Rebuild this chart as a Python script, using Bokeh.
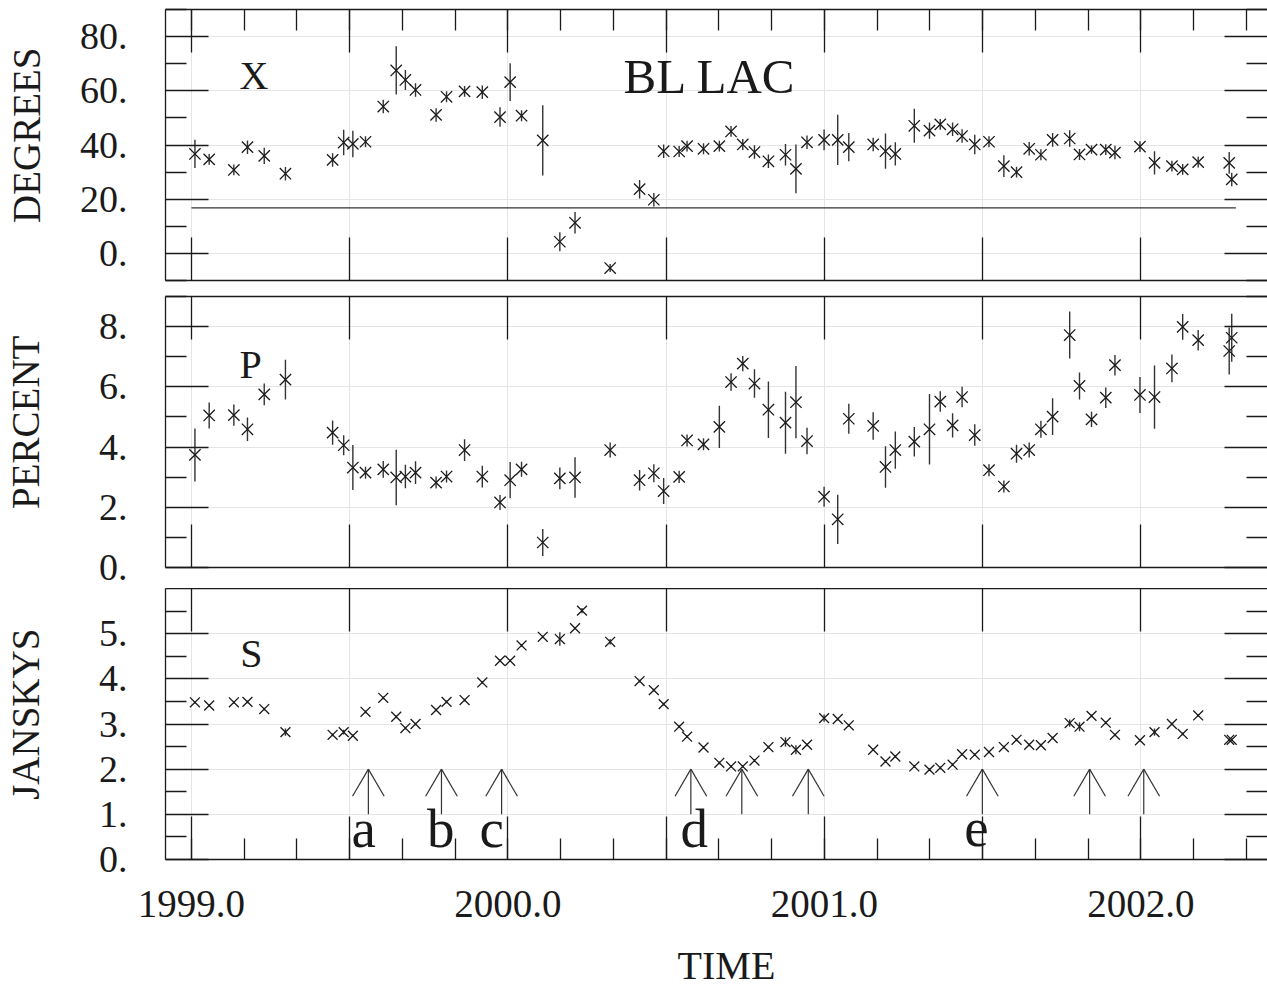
from bokeh.plotting import figure
from bokeh.layouts import column
from bokeh.models import LinearAxis, FixedTicker, Range1d, ColumnDataSource, Label
from bokeh.core.properties import value
from bokeh.embed import file_html
from bokeh.resources import INLINE

FONT = "Liberation Serif"
INK = "#1a1a1a"
ERR = "#333333"
PAD = "\u00a0\u00a0"

# ---------------- data ----------------
t_xp = [1999.011, 1999.056, 1999.134, 1999.177, 1999.230, 1999.297, 1999.446, 1999.481,
        1999.510, 1999.550, 1999.606, 1999.647, 1999.676, 1999.708, 1999.773, 1999.806,
        1999.863, 1999.919, 1999.975, 2000.007, 2000.043, 2000.110, 2000.164, 2000.212,
        2000.323, 2000.416, 2000.461, 2000.492, 2000.541, 2000.566, 2000.618,
        2000.668, 2000.705, 2000.742, 2000.779, 2000.823, 2000.877, 2000.910, 2000.945,
        2000.999, 2001.042, 2001.077, 2001.154, 2001.193, 2001.224, 2001.284, 2001.332,
        2001.366, 2001.405, 2001.435, 2001.475, 2001.520, 2001.567, 2001.607, 2001.647,
        2001.684, 2001.721, 2001.775, 2001.806, 2001.844, 2001.889, 2001.918, 2001.997,
        2002.043, 2002.098, 2002.132, 2002.181, 2002.279, 2002.287]

chi_deg = [36.7, 34.7, 30.8, 39.2, 36.0, 29.4, 34.5, 40.9, 40.4, 41.2,
           54.2, 67.5, 64.0, 60.3, 51.1, 57.8, 59.8, 59.5, 50.3, 63.2,
           50.8, 41.7, 4.3, 11.3, -5.4, 23.7, 19.8, 37.7, 37.6, 39.6, 38.6,
           39.6, 45.0, 40.2, 37.4, 34.0, 36.4, 31.2, 41.0, 41.9,
           41.9, 39.2, 40.2, 37.7, 36.7, 47.1, 45.3, 47.6, 45.8, 43.3,
           40.2, 41.2, 32.2, 30.0, 38.6, 36.4, 41.9, 42.4, 36.5, 38.3,
           38.3, 37.2, 39.4, 33.4, 32.2, 31.0, 33.7, 33.4, 27.3]
chi_err = [5.2, 2.0, 2.0, 2.5, 3.0, 2.5, 2.5, 4.7, 4.9, 2.0,
           2.5, 8.9, 3.7, 2.5, 2.5, 2.0, 2.0, 2.5, 3.6, 7.0,
           2.0, 13.0, 3.5, 4.0, 1.5, 3.4, 2.5, 2.5, 2.0, 2.0, 2.0,
           2.0, 2.0, 2.0, 2.5, 2.5, 4.0, 9.0, 2.5, 3.8,
           9.3, 5.2, 2.5, 6.5, 4.3, 6.3, 3.0, 2.0, 2.5, 2.5,
           3.6, 2.0, 4.0, 2.0, 2.5, 2.0, 2.5, 3.0, 2.0, 1.5,
           2.0, 2.5, 2.0, 4.3, 2.0, 2.0, 2.0, 4.0, 2.5]

pol_pct = [3.74, 5.05, 5.06, 4.59, 5.75, 6.24, 4.48, 4.06, 3.32, 3.15,
           3.26, 2.99, 3.02, 3.15, 2.82, 3.02, 3.90, 3.02, 2.16, 2.90,
           3.26, 0.83, 2.96, 2.99, 3.90, 2.90, 3.13, 2.54, 3.01, 4.22, 4.09,
           4.67, 6.16, 6.77, 6.11, 5.24, 4.81, 5.49, 4.20, 2.35,
           1.60, 4.94, 4.70, 3.34, 3.90, 4.18, 4.59, 5.51, 4.72, 5.66,
           4.40, 3.23, 2.69, 3.78, 3.90, 4.59, 5.01, 7.72, 6.03, 4.92,
           5.64, 6.72, 5.73, 5.66, 6.61, 7.99, 7.55, 7.19, 7.63]
pol_err = [0.88, 0.43, 0.35, 0.39, 0.36, 0.66, 0.40, 0.33, 0.75, 0.20,
           0.28, 0.92, 0.39, 0.38, 0.20, 0.20, 0.36, 0.36, 0.25, 0.60,
           0.25, 0.45, 0.36, 0.67, 0.25, 0.34, 0.30, 0.43, 0.20, 0.20, 0.20,
           0.70, 0.29, 0.25, 0.47, 0.94, 1.03, 1.20, 0.44, 0.33,
           0.82, 0.50, 0.46, 0.69, 0.62, 0.49, 1.17, 0.34, 0.40, 0.34,
           0.36, 0.20, 0.20, 0.30, 0.25, 0.28, 0.61, 0.78, 0.45, 0.25,
           0.34, 0.34, 0.60, 1.05, 0.46, 0.43, 0.34, 0.78, 0.80]

t_s = [1999.011, 1999.056, 1999.134, 1999.177, 1999.230, 1999.297, 1999.446, 1999.481,
       1999.510, 1999.550, 1999.606, 1999.647, 1999.676, 1999.708, 1999.773, 1999.806,
       1999.863, 1999.919, 1999.975, 2000.007, 2000.043, 2000.110, 2000.164, 2000.212,
       2000.234, 2000.323, 2000.416, 2000.461, 2000.492, 2000.541, 2000.566, 2000.618,
       2000.668, 2000.705, 2000.742, 2000.779, 2000.823, 2000.877, 2000.910, 2000.945,
       2000.999, 2001.042, 2001.077, 2001.154, 2001.193, 2001.224, 2001.284, 2001.332,
       2001.366, 2001.405, 2001.435, 2001.475, 2001.520, 2001.567, 2001.607, 2001.647,
       2001.684, 2001.721, 2001.775, 2001.806, 2001.844, 2001.889, 2001.918, 2001.997,
       2002.043, 2002.098, 2002.132, 2002.181, 2002.279, 2002.287]
flux_jy = [3.48, 3.41, 3.48, 3.49, 3.33, 2.82, 2.76, 2.82, 2.74, 3.27,
           3.58, 3.16, 2.91, 3.00, 3.31, 3.49, 3.53, 3.92, 4.40, 4.40,
           4.74, 4.93, 4.88, 5.12, 5.51, 4.82, 3.95, 3.75, 3.44, 2.94,
           2.72, 2.48,
           2.14, 2.06, 2.06, 2.19, 2.49, 2.60, 2.43, 2.54, 3.13,
           3.11, 2.97, 2.43, 2.17, 2.28, 2.06, 1.99, 2.03, 2.10, 2.33,
           2.32, 2.38, 2.49, 2.65, 2.54, 2.53, 2.69, 3.02, 2.94, 3.18,
           3.03, 2.76, 2.64, 2.82, 3.00, 2.78, 3.19, 2.65, 2.65]
flux_err = [0.03, 0.03, 0.03, 0.03, 0.03, 0.08, 0.03, 0.05, 0.03, 0.03,
            0.03, 0.03, 0.03, 0.03, 0.03, 0.03, 0.03, 0.03, 0.03, 0.03,
            0.03, 0.03, 0.15, 0.03, 0.06, 0.06, 0.03, 0.03, 0.03, 0.03,
            0.03, 0.03,
            0.03, 0.03, 0.03, 0.03, 0.03, 0.10, 0.10, 0.03, 0.08,
            0.03, 0.03, 0.03, 0.03, 0.03, 0.03, 0.03, 0.03, 0.03, 0.03,
            0.03, 0.03, 0.03, 0.03, 0.03, 0.03, 0.03, 0.08, 0.10, 0.03,
            0.03, 0.03, 0.03, 0.08, 0.03, 0.03, 0.03, 0.03, 0.03]

ref_angle = 16.8
ref_span = [1999.0, 2002.30]

arrow_times = [1999.559, 1999.790, 1999.980, 2000.578, 2000.739, 2000.949,
               2001.499, 2001.838, 2002.009]
arrow_tip, arrow_base, head_base, head_half = 2.0, 1.0, 1.4, 0.05
event_times = [1999.544, 1999.788, 1999.949, 2000.589, 2001.480]
event_labels = ["a", "b", "c", "d", "e"]
event_level = 0.69

x_major = [1999.0, 1999.5, 2000.0, 2000.5, 2001.0, 2001.5, 2002.0]
x_labels = ["1999.0", "", "2000.0", "", "2001.0", "", "2002.0"]
x_minor = [1999.0 + k / 6.0 for k in range(0, 21)]

deg_major = [0, 20, 40, 60, 80]
deg_labels = ["0.", "20.", "40.", "60.", "80."]
deg_minor = [-10, 10, 30, 50, 70, 90]
pct_major = [0, 2, 4, 6, 8]
pct_labels = ["0.", "2.", "4.", "6.", "8."]
pct_minor = [1, 3, 5, 7, 9]
jy_major = [0, 1, 2, 3, 4, 5]
jy_labels = ["0.", "1.", "2.", "3.", "4.", "5."]
jy_minor = [0.5, 1.5, 2.5, 3.5, 4.5, 5.5]

XLIM = (1998.918, 2002.40)
W = 1267


def base_axis(ticker, ticks, minor=True, labels=None, font_px="38px", standoff=38):
    ax = LinearAxis(ticker=ticker)
    ax.major_tick_in = 43
    ax.major_tick_out = 0
    ax.minor_tick_in = 21 if minor else 0
    ax.minor_tick_out = 0
    ax.major_tick_line_color = INK
    ax.major_tick_line_width = 1.3
    ax.minor_tick_line_color = INK if minor else None
    ax.minor_tick_line_width = 1.3
    ax.axis_line_color = INK
    ax.axis_line_width = 1.3
    if labels is None:
        ax.major_label_overrides = {t: "" for t in ticks}
        ax.major_label_text_font_size = "1px"
        ax.major_label_standoff = 0
    else:
        ax.major_label_overrides = labels
        ax.major_label_text_font = FONT
        ax.major_label_text_font_size = font_px
        ax.major_label_text_color = INK
        ax.major_label_standoff = standoff
    return ax


def panel(height, top_b, bot_b, ylim, y_major, y_minor, y_lab, y_title, title_off,
          outer_top, outer_bottom):
    p = figure(width=W, height=height, x_range=Range1d(*XLIM), y_range=Range1d(*ylim),
               output_backend="svg", toolbar_location=None,
               min_border_left=163, min_border_right=0,
               min_border_top=top_b, min_border_bottom=bot_b,
               x_axis_location=None, y_axis_location=None)
    p.outline_line_color = None
    p.background_fill_color = "white"
    p.border_fill_color = "white"

    left = base_axis(FixedTicker(ticks=y_major, minor_ticks=y_minor), y_major, True,
                     dict(zip(y_major, y_lab)), "38px", 38)
    left.axis_label = PAD + y_title
    left.axis_label_text_font = FONT
    left.axis_label_text_font_size = "39px"
    left.axis_label_text_font_style = "normal"
    left.axis_label_text_color = INK
    left.axis_label_standoff = title_off
    p.add_layout(left, "left")

    right = base_axis(FixedTicker(ticks=y_major, minor_ticks=y_minor), y_major, True, None)
    right.axis_line_color = None
    p.add_layout(right, "right")

    above = base_axis(FixedTicker(ticks=x_major, minor_ticks=x_minor), x_major,
                      outer_top, None)
    p.add_layout(above, "above")

    if outer_bottom:
        below = base_axis(FixedTicker(ticks=x_major, minor_ticks=x_minor), x_major, True,
                          dict(zip(x_major, x_labels)), "39px", 31)
        below.axis_label = PAD + "TIME"
        below.axis_label_text_font = FONT
        below.axis_label_text_font_size = "40px"
        below.axis_label_text_font_style = "normal"
        below.axis_label_text_color = INK
        below.axis_label_text_line_height = 0.8
        below.axis_label_standoff = 23
    else:
        below = base_axis(FixedTicker(ticks=x_major, minor_ticks=x_minor), x_major,
                          False, None)
    p.add_layout(below, "below")
    return p


def add_points(p, t, v, e, size):
    src = ColumnDataSource(dict(t=t, v=v,
                                lo=[a - b for a, b in zip(v, e)],
                                hi=[a + b for a, b in zip(v, e)]))
    p.segment(x0="t", y0="lo", x1="t", y1="hi", source=src,
              line_color=ERR, line_width=1.4)
    p.scatter(x="t", y="v", source=src, marker="x", size=size,
              line_color=INK, line_width=1.3)


def tag(p, x, y, text, size):
    p.add_layout(Label(x=x, y=y, text=text, text_font=FONT, text_font_size=size,
                       text_color=INK, text_baseline="alphabetic"))


# ---------------- panel 1 : position angle ----------------
p1 = panel(289, 9, 9, (-10, 90), deg_major, deg_minor, deg_labels, "DEGREES", 29,
           True, False)
p1.line(x=ref_span, y=[ref_angle, ref_angle], line_color=ERR, line_width=1.3)
add_points(p1, t_xp, chi_deg, chi_err, 16)
tag(p1, 1999.152, 65.6, "X", "40px")
tag(p1, 2000.365, 65.1, "BL LAC", "49px")

# ---------------- panel 2 : percent polarization ----------------
p2 = panel(299, 7, 21, (0, 9), pct_major, pct_minor, pct_labels, "PERCENT", 49,
           False, False)
add_points(p2, t_xp, pol_pct, pol_err, 16)
tag(p2, 1999.152, 6.73, "P", "40px")

# ---------------- panel 3 : flux density ----------------
p3 = panel(402, 0, 131, (0, 6), jy_major, jy_minor, jy_labels, "JANSKYS", 49,
           False, True)
add_points(p3, t_s, flux_jy, flux_err, 14)
tag(p3, 1999.154, 4.55, "S", "40px")

n = len(arrow_times)
p3.segment(x0=arrow_times, y0=[arrow_base] * n, x1=arrow_times, y1=[arrow_tip] * n,
           line_color=ERR, line_width=1.2)
p3.segment(x0=arrow_times, y0=[arrow_tip] * n, x1=[t - head_half for t in arrow_times],
           y1=[head_base] * n, line_color=ERR, line_width=1.2)
p3.segment(x0=arrow_times, y0=[arrow_tip] * n, x1=[t + head_half for t in arrow_times],
           y1=[head_base] * n, line_color=ERR, line_width=1.2)
p3.text(x=event_times, y=[event_level] * len(event_times), text=event_labels,
        text_font=value(FONT), text_font_size=value("55px"), text_color=INK,
        text_align="center", text_baseline="alphabetic")

layout = column(p1, p2, p3, spacing=0)
open("out.html", "w").write(file_html(layout, INLINE))
